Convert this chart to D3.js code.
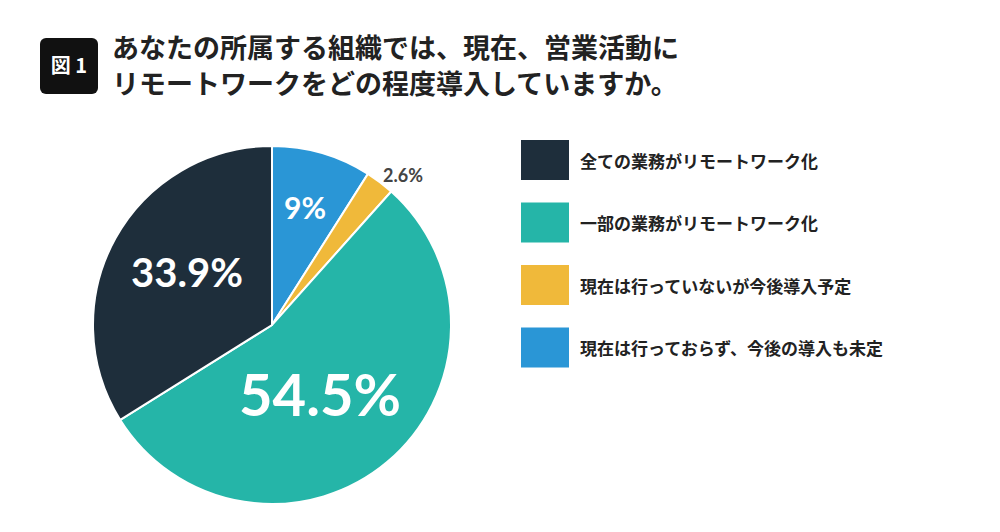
<!DOCTYPE html>
<html><head><meta charset="utf-8">
<script src="https://cdn.jsdelivr.net/npm/d3@7"></script>
<style>body{margin:0;background:#fff}svg{display:block;font-family:"Noto Sans CJK JP","Noto Sans",sans-serif}</style>
</head><body><svg id="c" width="1000" height="532"></svg>
<script>
const categories=["現在は行っておらず、今後の導入も未定","現在は行っていないが今後導入予定","一部の業務がリモートワーク化","全ての業務がリモートワーク化"];
const values=[9,2.6,54.5,33.9];
const labels=["9%","2.6%","54.5%","33.9%"];
const colors=["#2a96d6","#f0b93a","#25b5a8","#1e2e3b"];
const legendOrder=[3,2,1,0];
const svg=d3.select("#c");
// title
svg.append("rect").attr("x",40).attr("y",38).attr("width",58).attr("height",56).attr("rx",6).attr("fill","#111");
svg.append("text").attr("x",69).attr("y",73).attr("text-anchor","middle").attr("fill","#fff").attr("font-size",20).attr("font-weight",700).text("図 1");
["あなたの所属する組織では、現在、営業活動に","リモートワークをどの程度導入していますか。"].forEach((t,i)=>
 svg.append("text").attr("x",112).attr("y",58+i*36).attr("font-size",27).attr("font-weight",700).attr("fill","#222").text(t));
// pie
const cx=272,cy=325,r=179;
const pie=d3.pie().sort(null).value(d=>d)(values);
const arc=d3.arc().innerRadius(0).outerRadius(r);
const g=svg.append("g").attr("transform",`translate(${cx},${cy})`);
g.selectAll("path").data(pie).join("path").attr("d",arc).attr("fill",(d,i)=>colors[i]).attr("stroke","#fff").attr("stroke-width",2);
const lab=[{rr:0.7,fs:30,fill:"#fff"},{rr:1.13,fs:18,fill:"#444"},{rr:0.55,fs:58,fill:"#fff"},{rr:0.6,fs:40,fill:"#fff"}];
pie.forEach((d,i)=>{
 const a=(d.startAngle+d.endAngle)/2, L=lab[i];
 let x=Math.sin(a)*r*L.rr, y=-Math.cos(a)*r*L.rr;
 if(i===0){x=33;y=-118;} if(i===1){x=131;y=-150;} if(i===2){x=48;y=68;} if(i===3){x=-85;y=-53;}
 g.append("text").attr("x",x).attr("y",y).attr("text-anchor","middle").attr("dominant-baseline","central")
  .attr("font-size",L.fs).attr("font-weight",700).attr("fill",L.fill).attr("font-family","Lato,'Noto Sans',sans-serif").text(labels[i]);
});
// legend
legendOrder.forEach((k,j)=>{
 const y=140+j*62.5;
 svg.append("rect").attr("x",521).attr("y",y).attr("width",48).attr("height",40).attr("fill",colors[k]);
 svg.append("text").attr("x",580).attr("y",y+20).attr("dominant-baseline","central").attr("font-size",17).attr("font-weight",700).attr("fill","#222").text(categories[k]);
});
</script></body></html>
